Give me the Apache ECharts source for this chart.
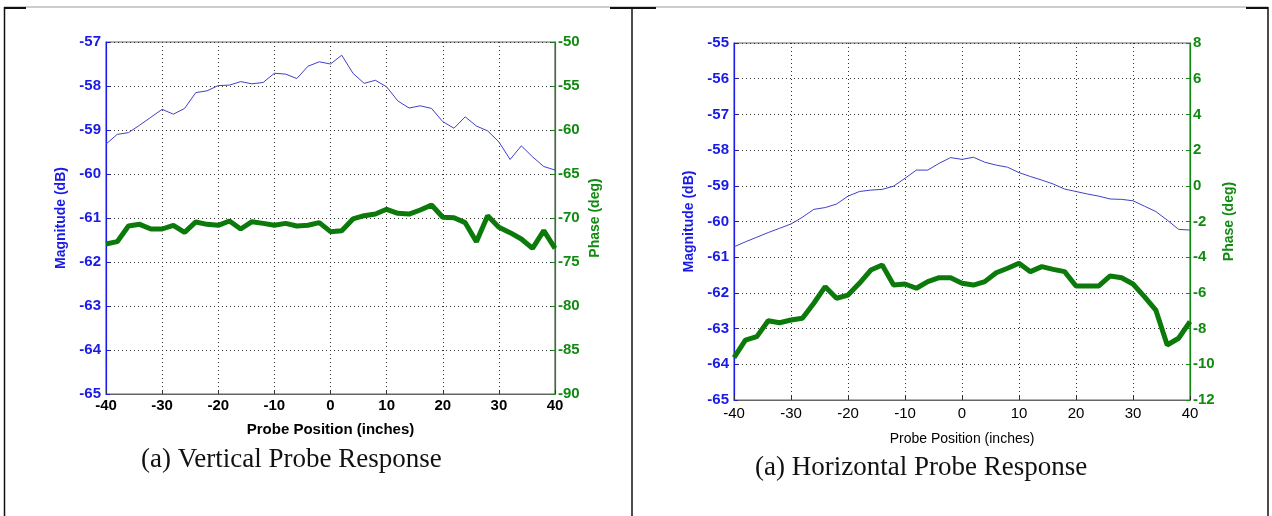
<!DOCTYPE html>
<html><head><meta charset="utf-8">
<script src="https://cdn.jsdelivr.net/npm/echarts@6/dist/echarts.min.js"></script>
<style>html,body{margin:0;padding:0;background:#fff}#c{width:1272px;height:516px}</style>
</head><body><div id="c"></div>
<script>
// Probe positions (inches)
const positions = [-40,-38,-36,-34,-32,-30,-28,-26,-24,-22,-20,-18,-16,-14,-12,-10,-8,-6,-4,-2,0,2,4,6,8,10,12,14,16,18,20,22,24,26,28,30,32,34,36,38,40];
// (a) Vertical probe response
const vertMagnitude = [-59.32,-59.10,-59.06,-58.89,-58.71,-58.53,-58.64,-58.51,-58.15,-58.11,-57.99,-57.98,-57.90,-57.95,-57.92,-57.71,-57.73,-57.83,-57.55,-57.45,-57.50,-57.30,-57.71,-57.94,-57.87,-58.02,-58.34,-58.50,-58.45,-58.51,-58.81,-58.96,-58.70,-58.91,-59.02,-59.27,-59.67,-59.36,-59.61,-59.83,-59.91];
const vertPhase = [-72.95,-72.69,-70.91,-70.72,-71.25,-71.25,-70.83,-71.63,-70.45,-70.72,-70.83,-70.34,-71.25,-70.42,-70.61,-70.83,-70.61,-70.91,-70.83,-70.53,-71.55,-71.44,-70.11,-69.74,-69.55,-69.01,-69.47,-69.55,-69.09,-68.52,-69.92,-69.97,-70.53,-72.69,-69.74,-71.06,-71.67,-72.39,-73.45,-71.44,-73.45];
// (a) Horizontal probe response
const horzMagnitude = [-60.71,-60.57,-60.44,-60.31,-60.19,-60.07,-59.88,-59.66,-59.61,-59.51,-59.29,-59.16,-59.12,-59.10,-59.01,-58.79,-58.56,-58.56,-58.37,-58.21,-58.26,-58.20,-58.34,-58.42,-58.48,-58.63,-58.74,-58.84,-58.95,-59.09,-59.16,-59.23,-59.29,-59.37,-59.38,-59.42,-59.57,-59.72,-59.96,-60.22,-60.24];
const horzPhase = [-9.63,-8.64,-8.45,-7.56,-7.67,-7.52,-7.42,-6.58,-5.65,-6.30,-6.12,-5.46,-4.72,-4.44,-5.56,-5.50,-5.74,-5.37,-5.15,-5.15,-5.46,-5.56,-5.37,-4.87,-4.62,-4.34,-4.81,-4.53,-4.68,-4.81,-5.61,-5.61,-5.61,-5.05,-5.15,-5.50,-6.21,-6.96,-8.92,-8.54,-7.61];
const xTicks = [-40,-30,-20,-10,0,10,20,30,40];
const captions = ['(a) Vertical Probe Response', '(a) Horizontal Probe Response'];
const xTitle = 'Probe Position (inches)';
const magTitle = 'Magnitude (dB)';
const phaseTitle = 'Phase (deg)';

const pair = (vals) => positions.map((p, i) => [p, vals[i]]);
const BLUE = '#1a1ae6', GREEN = '#128a12', LINEBLUE = '#4040c8', LINEGREEN = '#0b7a0b';
const FONT = 'Liberation Sans, Arial, sans-serif';
const gridLine = { show: true, lineStyle: { color: '#333', type: [1, 3], width: 1 } };

function xAxis(gridIndex, bold, gap, fs, margin) {
  return {
    type: 'value', gridIndex, min: -40, max: 40, interval: 10,
    name: xTitle, nameLocation: 'middle', nameGap: gap,
    nameTextStyle: { color: '#000', fontFamily: FONT, fontWeight: bold ? 'bold' : 'normal', fontSize: fs },
    axisLine: { show: true, onZero: false, lineStyle: { color: '#666', width: 1.2 } },
    axisTick: { show: true, inside: true, length: 4, lineStyle: { color: '#333' } },
    axisLabel: { color: '#000', fontFamily: FONT, fontSize: 15, margin, fontWeight: bold ? 'bold' : 'normal',
      formatter: v => xTicks.includes(v) ? String(v) : '' },
    splitLine: gridLine
  };
}
function yAxis(gridIndex, pos, min, max, interval, color, name, gap) {
  return {
    type: 'value', gridIndex, position: pos, min, max, interval,
    name, nameLocation: 'middle', nameGap: gap,
    nameTextStyle: { color, fontFamily: FONT, fontWeight: 'bold', fontSize: 14 },
    axisLine: { show: true, onZero: false, lineStyle: { color, width: 1.2 } },
    axisTick: { show: true, inside: true, length: 4, lineStyle: { color } },
    axisLabel: { color, fontFamily: FONT, fontWeight: 'bold', fontSize: 15, margin: pos === 'left' ? 5 : 3 },
    splitLine: pos === 'left' ? gridLine : { show: false }
  };
}

const chart = echarts.init(document.getElementById('c'), null, { renderer: 'canvas' });
chart.setOption({
  backgroundColor: '#fff',
  animation: false,
  grid: [
    { left: 106, top: 42, width: 449, height: 352, show: true, borderColor: '#666', borderWidth: 1.2 },
    { left: 734, top: 43, width: 456, height: 357, show: true, borderColor: '#666', borderWidth: 1.2 }
  ],
  xAxis: [xAxis(0, true, 28, 15, 4), xAxis(1, false, 32, 14, 6)],
  yAxis: [
    yAxis(0, 'left', -65, -57, 1, BLUE, magTitle, 38),
    yAxis(0, 'right', -90, -50, 5, GREEN, phaseTitle, 33),
    yAxis(1, 'left', -65, -55, 1, BLUE, magTitle, 38),
    yAxis(1, 'right', -12, 8, 2, GREEN, phaseTitle, 32)
  ],
  series: [
    { type: 'line', xAxisIndex: 0, yAxisIndex: 0, data: pair(vertMagnitude), symbol: 'none', lineStyle: { color: LINEBLUE, width: 1 } },
    { type: 'line', xAxisIndex: 0, yAxisIndex: 1, data: pair(vertPhase), symbol: 'none', lineStyle: { color: LINEGREEN, width: 5 } },
    { type: 'line', xAxisIndex: 1, yAxisIndex: 2, data: pair(horzMagnitude), symbol: 'none', lineStyle: { color: LINEBLUE, width: 1 } },
    { type: 'line', xAxisIndex: 1, yAxisIndex: 3, data: pair(horzPhase), symbol: 'none', lineStyle: { color: LINEGREEN, width: 5 } }
  ],
  graphic: [
    { type: 'line', shape: { x1: 4, y1: 7, x2: 1268, y2: 7 }, style: { stroke: '#999', lineWidth: 1 } },
    { type: 'line', shape: { x1: 4, y1: 8, x2: 26, y2: 8 }, style: { stroke: '#111', lineWidth: 2 } },
    { type: 'line', shape: { x1: 610, y1: 8, x2: 632, y2: 8 }, style: { stroke: '#111', lineWidth: 2 } },
    { type: 'line', shape: { x1: 632, y1: 8, x2: 656, y2: 8 }, style: { stroke: '#111', lineWidth: 2 } },
    { type: 'line', shape: { x1: 1246, y1: 8, x2: 1268, y2: 8 }, style: { stroke: '#111', lineWidth: 2 } },
    { type: 'line', shape: { x1: 4.5, y1: 7, x2: 4.5, y2: 516 }, style: { stroke: '#111', lineWidth: 1.5 } },
    { type: 'line', shape: { x1: 632, y1: 7, x2: 632, y2: 516 }, style: { stroke: '#111', lineWidth: 1.5 } },
    { type: 'line', shape: { x1: 1268, y1: 7, x2: 1268, y2: 516 }, style: { stroke: '#111', lineWidth: 1.5 } },
    { type: 'text', left: 141, top: 446, style: { text: captions[0], font: '27px "Liberation Serif", serif', fill: '#111' } },
    { type: 'text', left: 755, top: 454, style: { text: captions[1], font: '27px "Liberation Serif", serif', fill: '#111' } }
  ]
});
</script></body></html>
